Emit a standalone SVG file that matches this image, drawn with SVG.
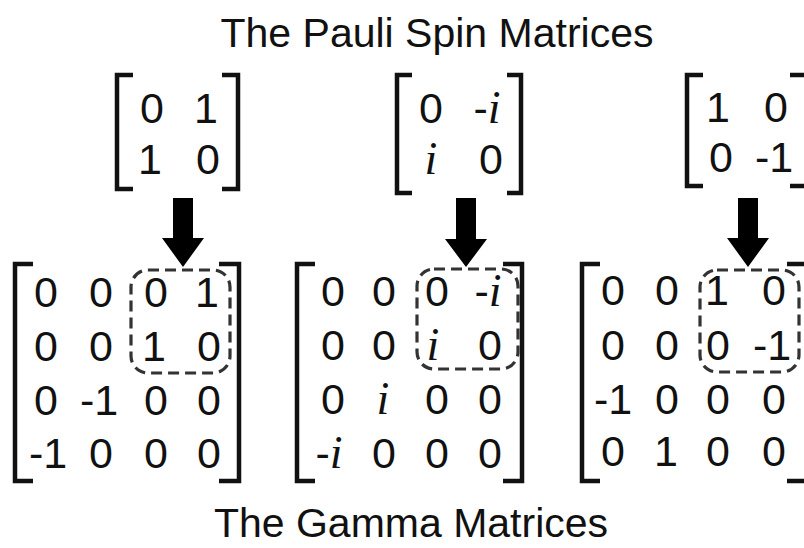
<svg xmlns="http://www.w3.org/2000/svg" width="804" height="548" viewBox="0 0 804 548">
<style>
.t{font-family:"Liberation Sans",Arial,sans-serif;font-size:41px;fill:#111;text-anchor:middle}
.n{font-family:"Liberation Sans",Arial,sans-serif;font-size:43px;fill:#111;text-anchor:middle}
.i{font-family:"Liberation Serif","Times New Roman",serif;font-style:italic;font-size:46px}
.br{fill:none;stroke:#111;stroke-width:4.5;stroke-linecap:butt}
.dash{fill:none;stroke:#333;stroke-width:3.2;stroke-dasharray:11 6}
.arr{fill:#000}
</style>
<rect width="804" height="548" fill="#fff"/>
<text class="t" x="437" y="47">The Pauli Spin Matrices</text>
<text class="t" x="411" y="537">The Gamma Matrices</text>

<g id="pauli-x">
<path class="br" d="M133,75 H117 V189 H133 M222,75 H238 V189 H222"/>
<text class="n" x="152" y="123">0</text><text class="n" x="206" y="123">1</text>
<text class="n" x="150" y="174">1</text><text class="n" x="208" y="174">0</text>
</g>
<g id="pauli-y">
<path class="br" d="M412,75 H397 V193 H412 M507,75 H521 V193 H507"/>
<text class="n" x="431" y="123">0</text><text class="n" x="487" y="123">-<tspan class="i">i</tspan></text>
<text class="n i" x="431" y="174">i</text><text class="n" x="491" y="174">0</text>
</g>
<g id="pauli-z">
<path class="br" d="M703,75 H687 V186 H703 M790,75 H807 V186 H790"/>
<text class="n" x="718" y="122">1</text><text class="n" x="776" y="122">0</text>
<text class="n" x="721" y="172">0</text><text class="n" x="774" y="172">-1</text>
</g>

<g id="connectors">
<path class="arr" d="M173,198 H193 V238 H204 L183,267 L162,238 H173 Z"/>
<path class="arr" d="M456,198 H476 V239 H487 L466,267 L445,239 H456 Z"/>
<path class="arr" d="M738,198 H758 V238 H769 L748,267 L727,238 H738 Z"/>
</g>

<g id="gamma-1">
<path class="br" d="M33,264 H15 V481 H33 M219,264 H239 V481 H219"/>
<rect class="dash" x="131" y="270" width="99" height="103" rx="17"/>
<text class="n" x="46" y="307">0</text><text class="n" x="101" y="307">0</text><text class="n" x="156" y="307">0</text><text class="n" x="207" y="307">1</text>
<text class="n" x="46" y="361">0</text><text class="n" x="101" y="361">0</text><text class="n" x="154" y="361">1</text><text class="n" x="209" y="361">0</text>
<text class="n" x="46" y="415">0</text><text class="n" x="99" y="415">-1</text><text class="n" x="156" y="415">0</text><text class="n" x="209" y="415">0</text>
<text class="n" x="48" y="468">-1</text><text class="n" x="101" y="468">0</text><text class="n" x="156" y="468">0</text><text class="n" x="209" y="468">0</text>
</g>
<g id="gamma-2">
<path class="br" d="M315,264 H297 V481 H315 M503,264 H522 V481 H503"/>
<rect class="dash" x="417" y="269" width="101" height="100" rx="17"/>
<text class="n" x="333" y="306">0</text><text class="n" x="384" y="306">0</text><text class="n" x="437" y="306">0</text><text class="n" x="488" y="306">-<tspan class="i">i</tspan></text>
<text class="n" x="333" y="360">0</text><text class="n" x="384" y="360">0</text><text class="n i" x="433" y="360">i</text><text class="n" x="490" y="360">0</text>
<text class="n" x="333" y="414">0</text><text class="n i" x="383" y="414">i</text><text class="n" x="437" y="414">0</text><text class="n" x="490" y="414">0</text>
<text class="n" x="329" y="468">-<tspan class="i">i</tspan></text><text class="n" x="384" y="468">0</text><text class="n" x="437" y="468">0</text><text class="n" x="490" y="468">0</text>
</g>
<g id="gamma-3">
<path class="br" d="M600,264 H582 V481 H600 M787,264 H807 V481 H787"/>
<rect class="dash" x="700" y="270" width="99" height="102" rx="17"/>
<text class="n" x="613" y="305">0</text><text class="n" x="667" y="305">0</text><text class="n" x="717" y="305">1</text><text class="n" x="774" y="305">0</text>
<text class="n" x="613" y="360">0</text><text class="n" x="667" y="360">0</text><text class="n" x="718" y="360">0</text><text class="n" x="772" y="360">-1</text>
<text class="n" x="613" y="414">-1</text><text class="n" x="667" y="414">0</text><text class="n" x="718" y="414">0</text><text class="n" x="774" y="414">0</text>
<text class="n" x="613" y="466">0</text><text class="n" x="666" y="466">1</text><text class="n" x="718" y="466">0</text><text class="n" x="774" y="466">0</text>
</g>
</svg>
